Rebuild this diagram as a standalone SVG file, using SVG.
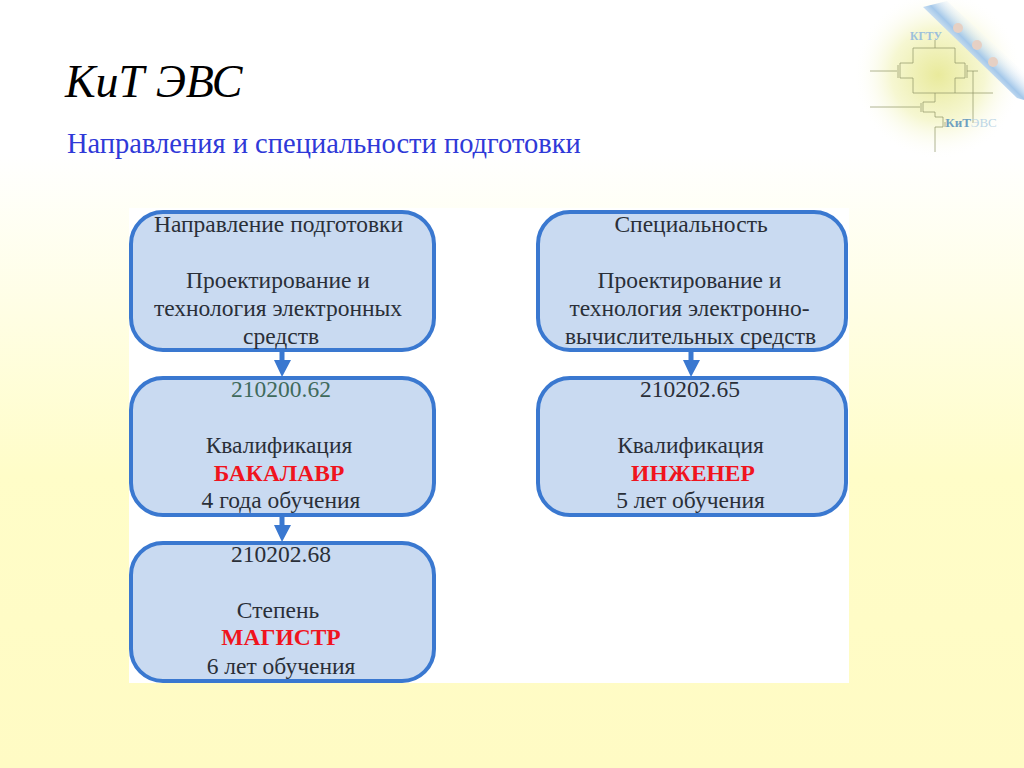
<svg xmlns="http://www.w3.org/2000/svg" width="1024" height="768" viewBox="0 0 1024 768">
<style>
text{font-family:"Liberation Serif","Times New Roman",serif}
.b{fill:#c9daf1;stroke:#3a78d0;stroke-width:4}
.t{font-size:23.5px;fill:#2a2f38;text-anchor:middle}
.r{font-size:23.5px;font-weight:bold;fill:#f0141e;text-anchor:middle}
.c{stroke:#3a78d0;stroke-width:5;fill:none}
.h{fill:#3a78d0}
.l{stroke:#8f9468;stroke-width:1;fill:none;opacity:.7}
</style>
<defs>
<linearGradient id="bg" x1="0" y1="0" x2="0" y2="1"><stop offset="0" stop-color="#ffffff"/><stop offset=".2" stop-color="#ffffff"/><stop offset=".62" stop-color="#fffdc8"/><stop offset="1" stop-color="#fffbc4"/></linearGradient>
<radialGradient id="glow"><stop offset="0" stop-color="#e9ea9c"/><stop offset=".55" stop-color="#f6f7d2"/><stop offset="1" stop-color="#ffffff" stop-opacity="0"/></radialGradient>
<linearGradient id="band" gradientUnits="userSpaceOnUse" x1="985" y1="30" x2="955" y2="60"><stop offset="0" stop-color="#ffffff" stop-opacity="0"/><stop offset=".5" stop-color="#a4c8ea"/><stop offset="1" stop-color="#ffffff" stop-opacity=".6"/></linearGradient>
</defs>
<rect width="1024" height="768" fill="url(#bg)"/>
<g id="logo">
<circle cx="938" cy="75" r="85" fill="url(#glow)"/>
<polygon points="923,7 947,1 1024,72 1024,100 1017,98" fill="url(#band)"/>
<g fill="#e6d0c4"><circle cx="958" cy="28" r="5"/><circle cx="977" cy="45" r="5"/><circle cx="993" cy="62" r="5"/></g>
<path class="l" d="M935,40V48M913,48H955M913,48V63H900V78H913V93M898,65V78M870,71H897M955,48V63H965V78H955V93M967,65V78M967,71H978M973,71V123M913,93H993M935,93V102H923V112H935V117H943V127H935V152M921,103V112M870,107H920M945,122V127"/>
<text x="926" y="40" font-size="11.5" font-weight="bold" fill="#9cc0dc" text-anchor="middle">КГТУ</text>
<text x="971" y="127" font-size="13" fill="#bcd6e6" text-anchor="middle"><tspan font-weight="bold" fill="#6f9fc0">КиТ</tspan>ЭВС</text>
</g>
<text id="title" x="65" y="97" font-size="46" font-style="italic" fill="#000">КиТ ЭВС</text>
<text id="subtitle" x="67" y="153" font-size="28.5" fill="#2f39d8">Направления и специальности подготовки</text>
<rect id="panel" x="129" y="208" width="720" height="475" fill="#fff"/>
<g id="connectors">
<path class="c" d="M282,350V362M282,515V527M691,350V362"/>
<path class="h" d="M274,360H291L282,377ZM274,525H291L282,542ZM683,360H700L691,377Z"/>
</g>
<g id="n1"><rect class="b" x="131" y="212" width="303" height="138" rx="32"/>
<text class="t" x="278.500" y="232">Направление подготовки</text><text class="t" x="278" y="288">Проектирование и</text><text class="t" x="278" y="316">технология электронных</text><text class="t" x="281" y="344">средств</text></g>
<g id="n2"><rect class="b" x="131" y="378" width="303" height="137" rx="32"/>
<text class="t" x="281" y="397" style="fill:#3f6a5c">210200.62</text><text class="t" x="279" y="453">Квалификация</text><text class="r" x="279" y="481">БАКАЛАВР</text><text class="t" x="281" y="508">4 года обучения</text></g>
<g id="n3"><rect class="b" x="131" y="543" width="303" height="138" rx="32"/>
<text class="t" x="281" y="562">210202.68</text><text class="t" x="278" y="618">Степень</text><text class="r" x="281" y="645">МАГИСТР</text><text class="t" x="281" y="674">6 лет обучения</text></g>
<g id="n4"><rect class="b" x="538" y="212" width="308" height="138" rx="32"/>
<text class="t" x="691" y="232">Специальность</text><text class="t" x="689.500" y="288">Проектирование и</text><text class="t" x="689.500" y="316">технология электронно-</text><text class="t" x="690.500" y="344">вычислительных средств</text></g>
<g id="n5"><rect class="b" x="538" y="378" width="308" height="137" rx="32"/>
<text class="t" x="690" y="397">210202.65</text><text class="t" x="690.500" y="453">Квалификация</text><text class="r" x="693" y="481">ИНЖЕНЕР</text><text class="t" x="690.500" y="508">5 лет обучения</text></g>
</svg>
